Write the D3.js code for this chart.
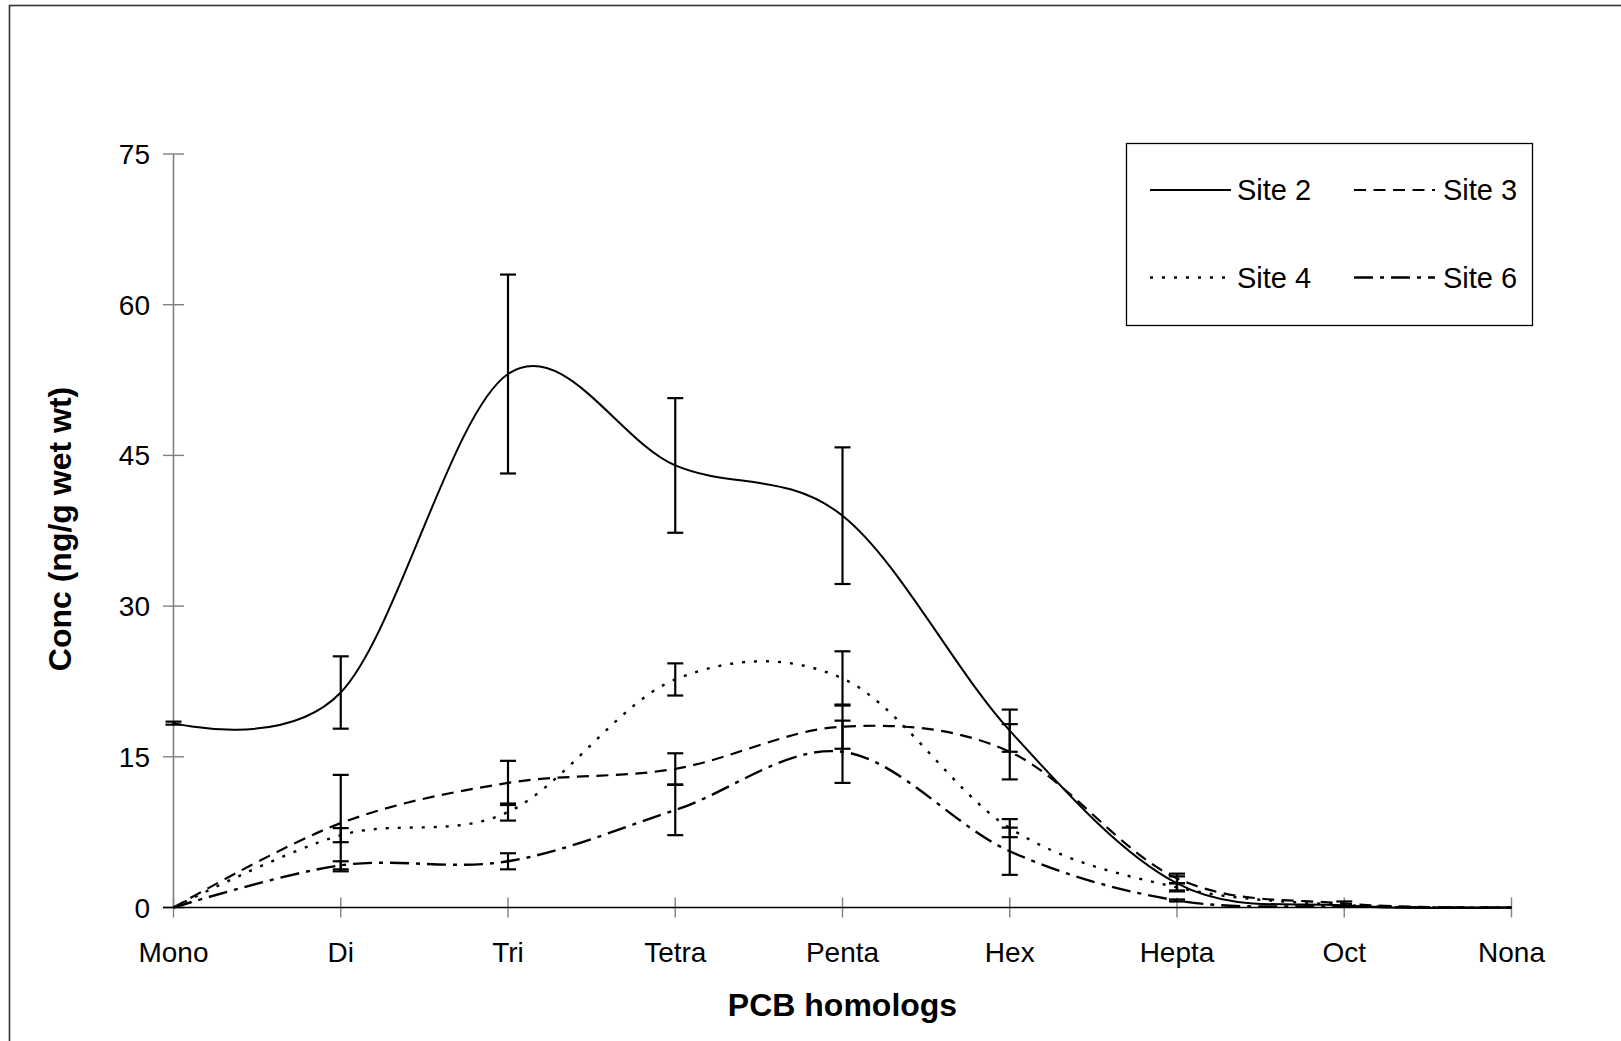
<!DOCTYPE html>
<html>
<head>
<meta charset="utf-8">
<script src="https://cdn.jsdelivr.net/npm/d3@7"></script>
<style>
  html, body { margin: 0; padding: 0; background: #fff; }
  svg { display: block; }
  text { font-family: "Liberation Sans", Arial, sans-serif; fill: #000; }
</style>
</head>
<body>
<svg id="chart" width="1621" height="1041"></svg>
<script>
// ---- data ----
const categories = ["Mono", "Di", "Tri", "Tetra", "Penta", "Hex", "Hepta", "Oct", "Nona"];
const yTicks = [0, 15, 30, 45, 60, 75];

const site2 = [18.35, 21.4, 53.1, 44.0, 39.0, 17.6, 2.4, 0.2, 0];
const site2Err = [0.15, 3.6, 9.9, 6.7, 6.8, 2.1, 0.7, 0, 0];

const site3 = [0, 8.4, 12.4, 13.8, 18.0, 15.5, 2.9, 0.4, 0];
const site3Err = [0, 4.8, 2.2, 1.55, 2.2, 2.75, 0.47, 0.2, 0];

const site4 = [0, 7.2, 9.5, 22.7, 22.8, 7.9, 2.0, 0.25, 0];
const site4Err = [0, 0.7, 0.85, 1.6, 2.7, 0.9, 0.4, 0, 0];

const site6 = [0, 4.2, 4.6, 9.7, 15.5, 5.6, 0.7, 0.1, 0];
const site6Err = [0, 0.4, 0.8, 2.5, 3.1, 2.35, 0.1, 0, 0];

const seriesNames = ["Site 2", "Site 3", "Site 4", "Site 6"];

// ---- setup ----
const svg = d3.select("#chart");
const x = d3.scalePoint().domain(categories).range([173.5, 1511.5]);
const y = d3.scaleLinear().domain([0, 75]).range([907.5, 154]);

const styles = {
  "Site 2": { dash: null, width: 2 },
  "Site 3": { dash: "12,7.5", width: 2.2 },
  "Site 4": { dash: "3,9", width: 2.4 },
  "Site 6": { dash: "19,7,4,7", width: 2.4 }
};

const series = [
  { name: "Site 2", values: site2, err: site2Err },
  { name: "Site 3", values: site3, err: site3Err },
  { name: "Site 4", values: site4, err: site4Err },
  { name: "Site 6", values: site6, err: site6Err }
];

// outer border
svg.append("rect")
  .attr("x", 9.5).attr("y", 5.5)
  .attr("width", 1640).attr("height", 1060)
  .attr("fill", "none").attr("stroke", "#333").attr("stroke-width", 1.6);

// axes
const axisColor = "#808080";
svg.append("line")
  .attr("x1", x("Mono")).attr("x2", x("Mono"))
  .attr("y1", y(75)).attr("y2", y(0))
  .attr("stroke", axisColor).attr("stroke-width", 1.6);

svg.selectAll(".ytick").data(yTicks).enter().append("line")
  .attr("x1", x("Mono") - 10.5).attr("x2", x("Mono") + 10.5)
  .attr("y1", d => y(d)).attr("y2", d => y(d))
  .attr("stroke", d => d === 0 ? "#000" : axisColor).attr("stroke-width", 1.4);

svg.selectAll(".xtick").data(categories).enter().append("line")
  .attr("x1", d => x(d)).attr("x2", d => x(d))
  .attr("y1", y(0) - 10).attr("y2", y(0) + 10)
  .attr("stroke", axisColor).attr("stroke-width", 1.4);

svg.append("line")
  .attr("x1", x("Mono") - 10.5).attr("x2", x("Nona"))
  .attr("y1", y(0)).attr("y2", y(0))
  .attr("stroke", "#000").attr("stroke-width", 1.6);

// tick labels
svg.selectAll(".ylab").data(yTicks).enter().append("text")
  .attr("x", 150).attr("y", d => y(d) + 10)
  .attr("text-anchor", "end").attr("font-size", 28)
  .text(d => d);

svg.selectAll(".xlab").data(categories).enter().append("text")
  .attr("x", d => x(d)).attr("y", 961.5)
  .attr("text-anchor", "middle").attr("font-size", 28)
  .text(d => d);

// axis titles
svg.append("text")
  .attr("x", 842.5).attr("y", 1016)
  .attr("text-anchor", "middle").attr("font-size", 32).attr("font-weight", "bold")
  .text("PCB homologs");

svg.append("text")
  .attr("transform", "translate(71,529) rotate(-90)")
  .attr("text-anchor", "middle").attr("font-size", 32).attr("font-weight", "bold")
  .text("Conc (ng/g wet wt)");

// lines
const line = d3.line()
  .x((d, i) => x(categories[i]))
  .y(d => y(d))
  .curve(d3.curveCardinal.tension(0));

series.forEach(s => {
  svg.append("path")
    .attr("d", line(s.values))
    .attr("fill", "none")
    .attr("stroke", "#000")
    .attr("stroke-width", styles[s.name].width)
    .attr("stroke-dasharray", styles[s.name].dash)
    .attr("stroke-linejoin", "round");
});

// error bars
series.forEach(s => {
  const g = svg.append("g");
  s.values.forEach((v, i) => {
    const e = s.err[i];
    if (!e) return;
    const cx = x(categories[i]);
    g.append("line").attr("x1", cx).attr("x2", cx)
      .attr("y1", y(v + e)).attr("y2", y(v - e))
      .attr("stroke", "#000").attr("stroke-width", 2.2);
    [v + e, v - e].forEach(val => {
      g.append("line").attr("x1", cx - 8).attr("x2", cx + 8)
        .attr("y1", y(val)).attr("y2", y(val))
        .attr("stroke", "#000").attr("stroke-width", 2.2);
    });
  });
});

// legend
svg.append("rect")
  .attr("x", 1126.5).attr("y", 143.5)
  .attr("width", 406).attr("height", 182)
  .attr("fill", "#fff").attr("stroke", "#000").attr("stroke-width", 1.3);

const legendPos = [
  { name: "Site 2", lx: 1150, ly: 190, tx: 1237, ty: 199.5 },
  { name: "Site 3", lx: 1354, ly: 190, tx: 1443, ty: 199.5 },
  { name: "Site 4", lx: 1150, ly: 277.5, tx: 1237, ty: 288 },
  { name: "Site 6", lx: 1354, ly: 277.5, tx: 1443, ty: 288 }
];
legendPos.forEach(p => {
  svg.append("line")
    .attr("x1", p.lx).attr("x2", p.lx + 81)
    .attr("y1", p.ly).attr("y2", p.ly)
    .attr("stroke", "#000")
    .attr("stroke-width", styles[p.name].width)
    .attr("stroke-dasharray", styles[p.name].dash);
  svg.append("text")
    .attr("x", p.tx).attr("y", p.ty)
    .attr("font-size", 29)
    .text(p.name);
});
</script>
</body>
</html>
